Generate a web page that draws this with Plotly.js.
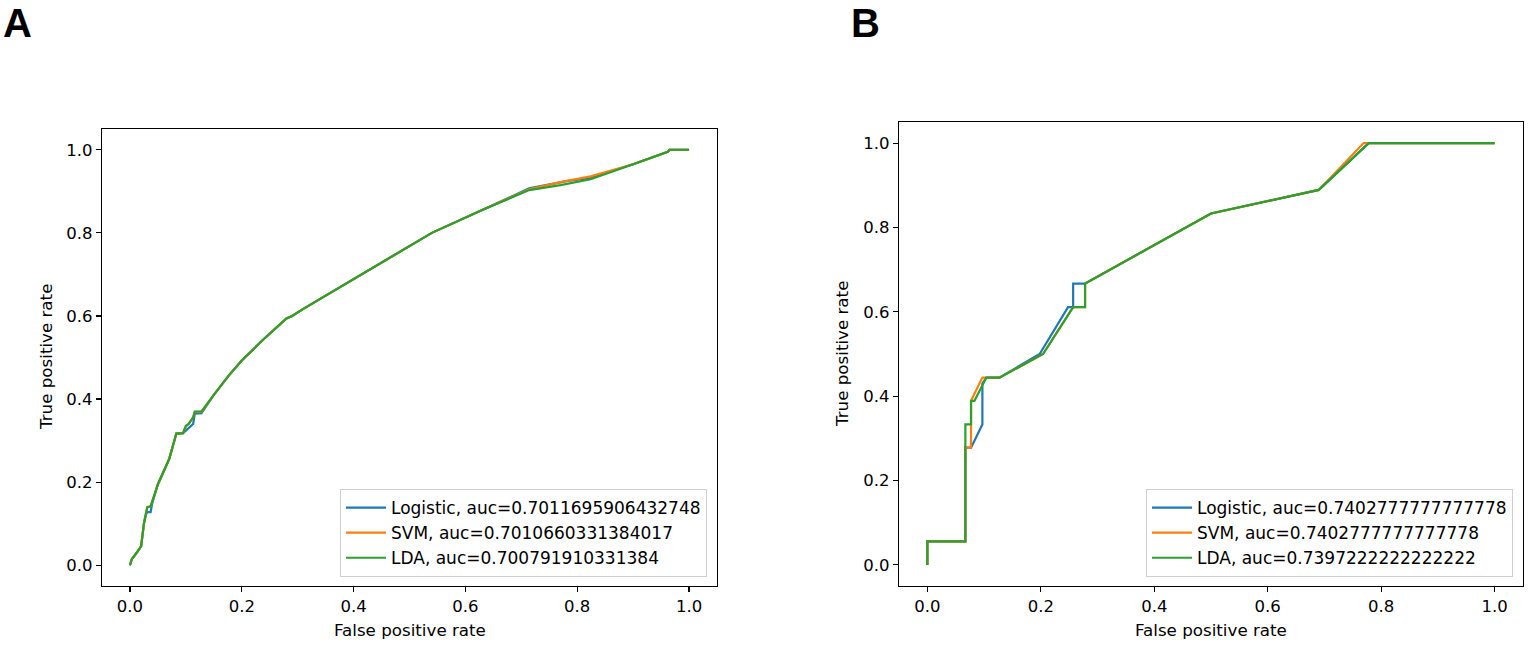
<!DOCTYPE html>
<html>
<head>
<meta charset="utf-8">
<script src="https://cdn.plot.ly/plotly-3.0.1.min.js"></script>
<style>
  html, body { margin: 0; padding: 0; background: #fff; }
  #chart { width: 1535px; height: 646px; }
</style>
</head>
<body>
<div id="chart"></div>
<script>
// Panel A: ROC curves
var fprA_log = [0, 0.003, 0.012, 0.02, 0.025, 0.028, 0.031, 0.037, 0.04, 0.05, 0.07, 0.083, 0.095, 0.105, 0.113, 0.116, 0.128, 0.15, 0.177, 0.2, 0.24, 0.28, 0.29, 0.31, 0.42, 0.54, 0.63, 0.714, 0.783, 0.824, 0.9, 0.962, 0.965, 1.0];
var tprA_log = [0, 0.014, 0.03, 0.046, 0.1, 0.12, 0.128, 0.128, 0.15, 0.195, 0.255, 0.317, 0.318, 0.329, 0.34, 0.365, 0.366, 0.41, 0.457, 0.493, 0.545, 0.594, 0.6, 0.617, 0.705, 0.8, 0.855, 0.907, 0.925, 0.932, 0.965, 0.995, 1.0, 1.0];

var fprA_svm = [0, 0.003, 0.012, 0.02, 0.025, 0.028, 0.031, 0.037, 0.05, 0.07, 0.083, 0.095, 0.1, 0.105, 0.113, 0.116, 0.128, 0.15, 0.177, 0.2, 0.24, 0.28, 0.29, 0.31, 0.42, 0.54, 0.63, 0.714, 0.77, 0.824, 0.9, 0.962, 0.965, 1.0];
var tprA_svm = [0, 0.014, 0.03, 0.046, 0.1, 0.12, 0.14, 0.142, 0.195, 0.255, 0.317, 0.318, 0.335, 0.34, 0.356, 0.369, 0.369, 0.41, 0.457, 0.493, 0.545, 0.594, 0.6, 0.617, 0.705, 0.8, 0.855, 0.905, 0.922, 0.936, 0.965, 0.995, 1.0, 1.0];

var fprA_lda = [0, 0.003, 0.012, 0.02, 0.025, 0.028, 0.031, 0.037, 0.05, 0.07, 0.083, 0.095, 0.1, 0.105, 0.113, 0.116, 0.128, 0.15, 0.177, 0.2, 0.24, 0.28, 0.29, 0.31, 0.42, 0.54, 0.63, 0.714, 0.77, 0.824, 0.9, 0.962, 0.965, 1.0];
var tprA_lda = [0, 0.014, 0.03, 0.046, 0.1, 0.12, 0.14, 0.142, 0.195, 0.255, 0.317, 0.318, 0.335, 0.34, 0.356, 0.37, 0.37, 0.41, 0.457, 0.493, 0.545, 0.594, 0.6, 0.617, 0.705, 0.8, 0.855, 0.903, 0.915, 0.929, 0.965, 0.995, 1.0, 1.0];

// Panel B: ROC curves
var fprB_log = [0, 0, 0.067, 0.067, 0.077, 0.097, 0.097, 0.104, 0.127, 0.198, 0.248, 0.257, 0.257, 0.278, 0.5, 0.69, 0.778, 1.0];
var tprB_log = [0, 0.056, 0.056, 0.278, 0.278, 0.333, 0.43, 0.444, 0.444, 0.5, 0.611, 0.611, 0.667, 0.667, 0.833, 0.889, 1.0, 1.0];

var fprB_svm = [0, 0, 0.067, 0.067, 0.077, 0.077, 0.097, 0.127, 0.204, 0.257, 0.278, 0.278, 0.5, 0.69, 0.769, 1.0];
var tprB_svm = [0, 0.056, 0.056, 0.278, 0.278, 0.389, 0.444, 0.444, 0.5, 0.611, 0.611, 0.667, 0.833, 0.889, 1.0, 1.0];

var fprB_lda = [0, 0, 0.067, 0.067, 0.077, 0.077, 0.083, 0.104, 0.127, 0.204, 0.257, 0.278, 0.278, 0.5, 0.69, 0.778, 1.0];
var tprB_lda = [0, 0.056, 0.056, 0.333, 0.333, 0.389, 0.389, 0.444, 0.444, 0.5, 0.611, 0.611, 0.667, 0.833, 0.889, 1.0, 1.0];

var namesA = ['Logistic, auc=0.7011695906432748', 'SVM, auc=0.7010660331384017', 'LDA, auc=0.700791910331384'];
var namesB = ['Logistic, auc=0.7402777777777778', 'SVM, auc=0.7402777777777778', 'LDA, auc=0.7397222222222222'];
var colors = ['#1f77b4', '#ff7f0e', '#2ca02c'];

var FONT = 'DejaVu Sans, sans-serif';
var W = 1535, H = 646;

function line(x, y, name, color, xa, ya, leg) {
  return {
    x: x, y: y, name: name, type: 'scatter', mode: 'lines',
    line: { color: color, width: 2.2 },
    xaxis: xa, yaxis: ya, legend: leg
  };
}

var data = [
  line(fprA_log, tprA_log, namesA[0], colors[0], 'x', 'y', 'legend'),
  line(fprA_svm, tprA_svm, namesA[1], colors[1], 'x', 'y', 'legend'),
  line(fprA_lda, tprA_lda, namesA[2], colors[2], 'x', 'y', 'legend'),
  line(fprB_log, tprB_log, namesB[0], colors[0], 'x2', 'y2', 'legend2'),
  line(fprB_svm, tprB_svm, namesB[1], colors[1], 'x2', 'y2', 'legend2'),
  line(fprB_lda, tprB_lda, namesB[2], colors[2], 'x2', 'y2', 'legend2')
];

function axis(domain, anchor) {
  return {
    domain: domain, anchor: anchor,
    range: [-0.05, 1.05], dtick: 0.2, tick0: 0, tickformat: '.1f',
    showgrid: false, zeroline: false,
    showline: true, mirror: true, linecolor: '#000', linewidth: 1.3,
    ticks: 'outside', ticklen: 5, tickwidth: 1.1, tickcolor: '#000',
    tickfont: { family: FONT, size: 16.5, color: '#000' }
  };
}

var legendStyle = {
  bgcolor: '#fff', bordercolor: '#d0d0d0', borderwidth: 1,
  font: { family: FONT, size: 17, color: '#000' },
  itemwidth: 40,
  xanchor: 'right', yanchor: 'bottom'
};

// axis titles and panel letters placed as paper annotations
function label(text, px, py, angle, size, family) {
  return {
    text: text, x: px / W, y: 1 - py / H, xref: 'paper', yref: 'paper',
    xanchor: 'center', yanchor: 'middle', textangle: angle || 0, showarrow: false,
    font: { family: family || FONT, size: size || 16.7, color: '#000' }
  };
}

var layout = {
  width: W, height: H,
  margin: { l: 0, r: 0, t: 0, b: 0 },
  paper_bgcolor: '#fff', plot_bgcolor: '#fff',
  showlegend: true,
  xaxis: axis([102 / W, 717 / W], 'y'),
  yaxis: axis([1 - 586 / H, 1 - 129 / H], 'x'),
  xaxis2: axis([899 / W, 1523 / W], 'y2'),
  yaxis2: axis([1 - 586 / H, 1 - 122 / H], 'x2'),
  legend: Object.assign({ x: 707 / W, y: 1 - 577 / H }, legendStyle),
  legend2: Object.assign({ x: 1513 / W, y: 1 - 577 / H }, legendStyle),
  annotations: [
    label('False positive rate', 410, 630),
    label('True positive rate', 46, 357, -90),
    label('False positive rate', 1211, 630),
    label('True positive rate', 842, 354, -90),
    label('<b>A</b>', 17, 23, 0, 40, 'Liberation Sans Narrow, Liberation Sans, sans-serif'),
    label('<b>B</b>', 866, 23, 0, 40, 'Liberation Sans Narrow, Liberation Sans, sans-serif')
  ]
};

Plotly.newPlot('chart', data, layout, { displayModeBar: false, staticPlot: true });
</script>
</body>
</html>
